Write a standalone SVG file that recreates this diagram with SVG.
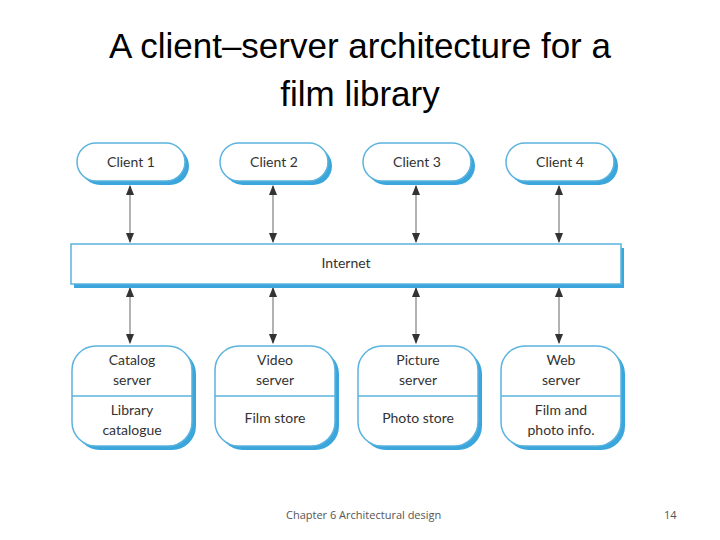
<svg xmlns="http://www.w3.org/2000/svg" width="720" height="540" viewBox="0 0 720 540">
<style>
.sh{fill:#3aa6db}
.bx{fill:#fff;stroke:#5bb3de;stroke-width:1.5}
.t{font-family:Lato,"Open Sans",sans-serif;font-size:14px;fill:#333;text-anchor:middle}
.ttl{font-family:"Liberation Sans",Arial,sans-serif;font-size:35px;fill:#000;text-anchor:middle}
.ft{font-family:"Open Sans",sans-serif;font-size:11px;fill:#555}
.ln{stroke:#999;stroke-width:1.5;fill:none;marker-start:url(#a);marker-end:url(#a)}
</style>
<defs>
<marker id="a" viewBox="0 0 10 10" refX="9" refY="5" markerWidth="7" markerHeight="7" orient="auto-start-reverse"><path d="M0,1 L10,5 L0,9 z" fill="#333"/></marker>
</defs>
<rect width="720" height="540" fill="#fff"/>
<text class="ttl" x="360" y="58">A client–server architecture for a</text>
<text class="ttl" x="360" y="106">film library</text>
<g id="connectors">
<line class="ln" x1="130" y1="186" x2="130" y2="242"/>
<line class="ln" x1="273" y1="186" x2="273" y2="242"/>
<line class="ln" x1="416" y1="186" x2="416" y2="242"/>
<line class="ln" x1="559" y1="186" x2="559" y2="242"/>
<line class="ln" x1="130" y1="288" x2="130" y2="343"/>
<line class="ln" x1="273" y1="288" x2="273" y2="343"/>
<line class="ln" x1="416" y1="288" x2="416" y2="343"/>
<line class="ln" x1="559" y1="288" x2="559" y2="343"/>
</g>
<g id="client1"><rect class="sh" x="81" y="147" width="108" height="38" rx="19"/><rect class="bx" x="77" y="143" width="108" height="38" rx="19"/><text class="t" x="131" y="167">Client 1</text></g>
<g id="client2"><rect class="sh" x="224" y="147" width="108" height="38" rx="19"/><rect class="bx" x="220" y="143" width="108" height="38" rx="19"/><text class="t" x="274" y="167">Client 2</text></g>
<g id="client3"><rect class="sh" x="367" y="147" width="108" height="38" rx="19"/><rect class="bx" x="363" y="143" width="108" height="38" rx="19"/><text class="t" x="417" y="167">Client 3</text></g>
<g id="client4"><rect class="sh" x="510" y="147" width="108" height="38" rx="19"/><rect class="bx" x="506" y="143" width="108" height="38" rx="19"/><text class="t" x="560" y="167">Client 4</text></g>
<g id="internet"><rect class="sh" x="74" y="248" width="550" height="40"/><rect class="bx" x="71" y="244" width="550" height="40"/><text class="t" x="346" y="268">Internet</text></g>
<g id="catalog"><rect class="sh" x="76" y="350" width="120" height="100" rx="24"/><rect class="bx" x="72" y="346" width="120" height="100" rx="24"/><line class="bx" x1="72" y1="396" x2="192" y2="396"/><text class="t" x="132" y="365">Catalog</text><text class="t" x="132" y="385">server</text><text class="t" x="132" y="415">Library</text><text class="t" x="132" y="435">catalogue</text></g>
<g id="video"><rect class="sh" x="219" y="350" width="120" height="100" rx="24"/><rect class="bx" x="215" y="346" width="120" height="100" rx="24"/><line class="bx" x1="215" y1="396" x2="335" y2="396"/><text class="t" x="275" y="365">Video</text><text class="t" x="275" y="385">server</text><text class="t" x="275" y="423">Film store</text></g>
<g id="picture"><rect class="sh" x="362" y="350" width="120" height="100" rx="24"/><rect class="bx" x="358" y="346" width="120" height="100" rx="24"/><line class="bx" x1="358" y1="396" x2="478" y2="396"/><text class="t" x="418" y="365">Picture</text><text class="t" x="418" y="385">server</text><text class="t" x="418" y="423">Photo store</text></g>
<g id="web"><rect class="sh" x="505" y="350" width="120" height="100" rx="24"/><rect class="bx" x="501" y="346" width="120" height="100" rx="24"/><line class="bx" x1="501" y1="396" x2="621" y2="396"/><text class="t" x="561" y="365">Web</text><text class="t" x="561" y="385">server</text><text class="t" x="561" y="415">Film and</text><text class="t" x="561" y="435">photo info.</text></g>
<text class="ft" x="286" y="519">Chapter 6 Architectural design</text>
<text class="ft" x="664" y="519">14</text>
</svg>
